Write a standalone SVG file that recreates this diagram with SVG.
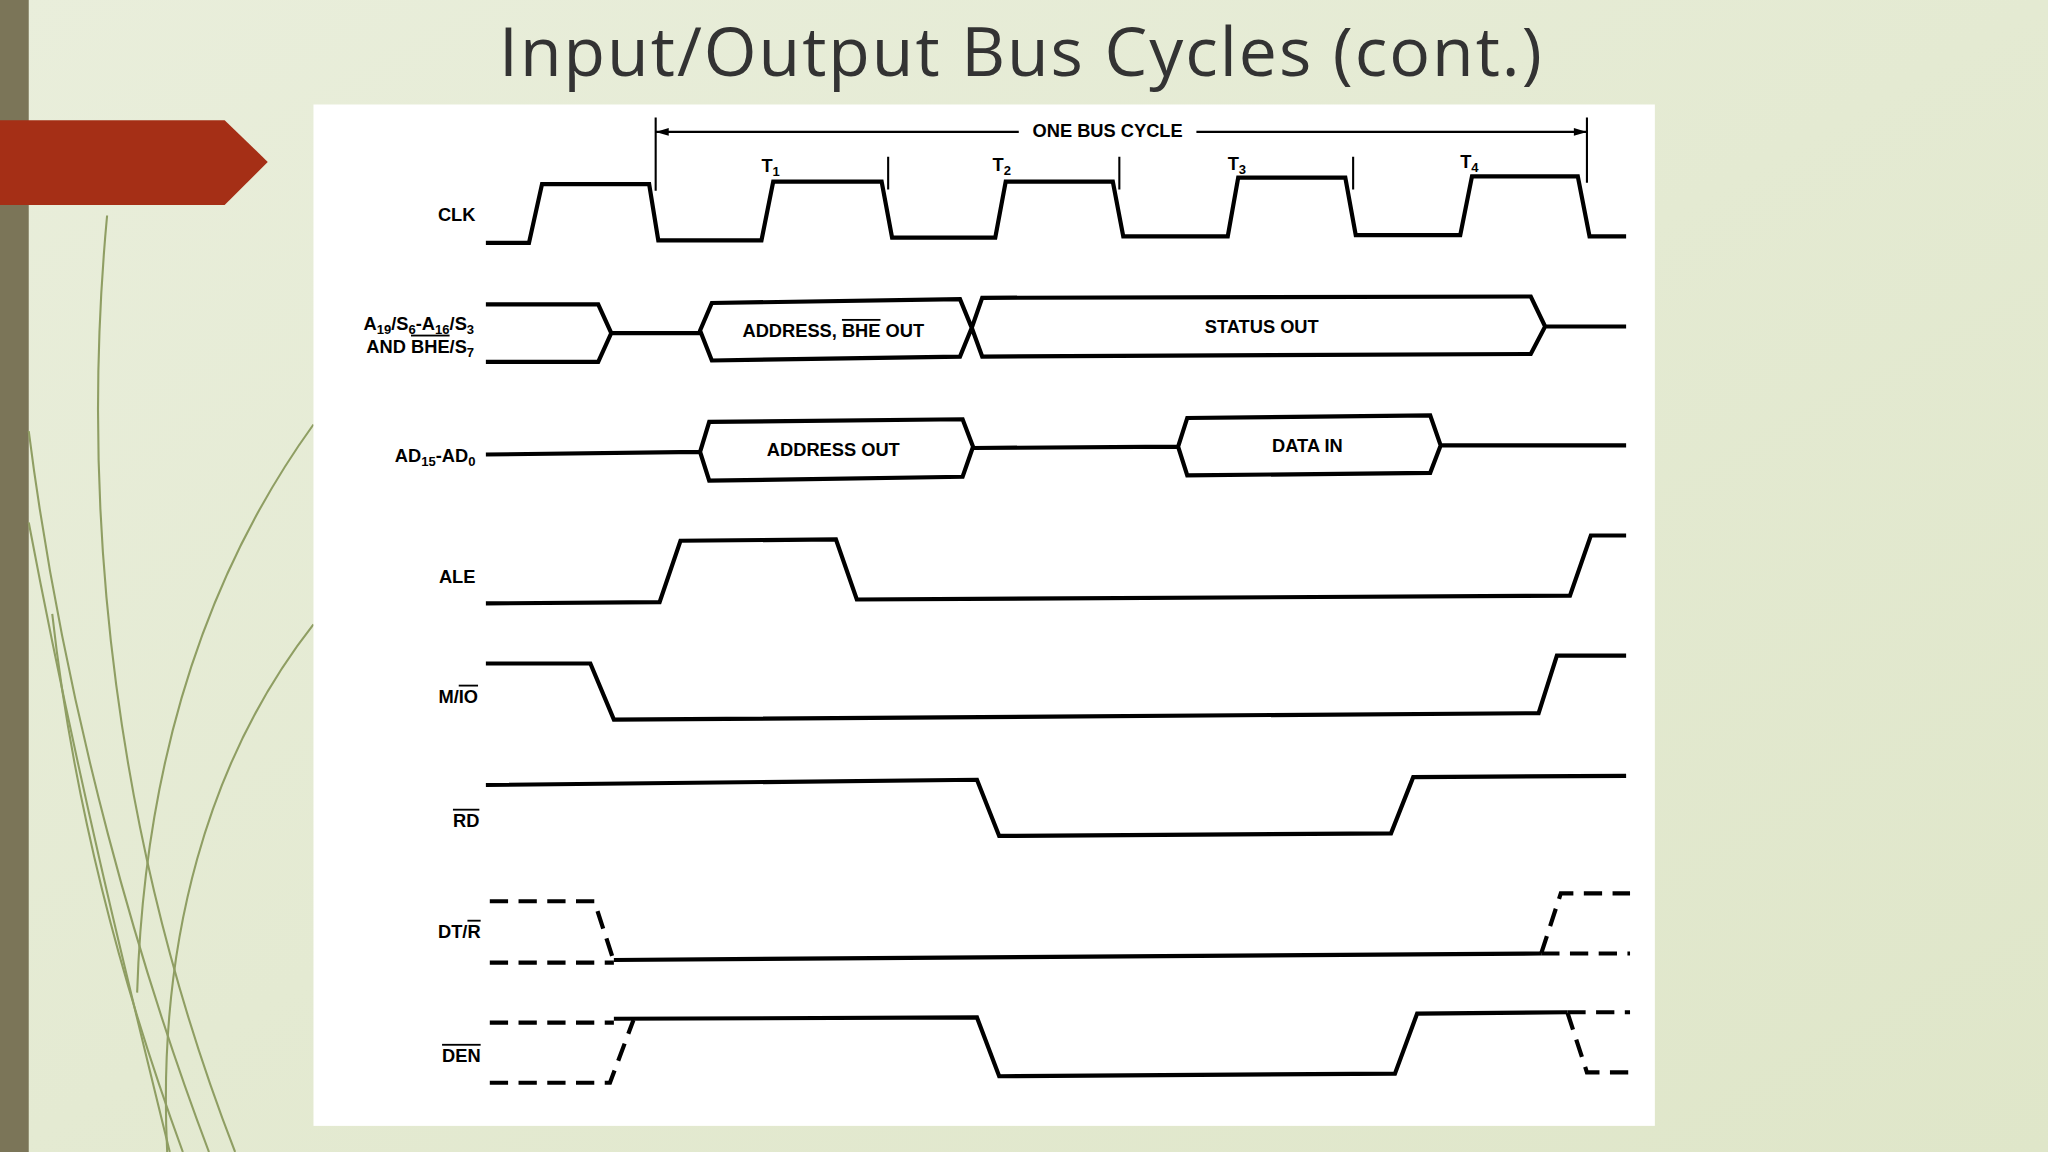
<svg xmlns="http://www.w3.org/2000/svg" width="2048" height="1152" viewBox="0 0 2048 1152">
<defs>
<linearGradient id="bg" x1="0" y1="0" x2="1" y2="1"><stop offset="0" stop-color="#e9eedb"/><stop offset="1" stop-color="#dfe6c9"/></linearGradient>
<style>
.s{fill:none;stroke:#000;stroke-width:3.2;stroke-linejoin:miter}
.d{fill:none;stroke:#000;stroke-width:3.2;stroke-dasharray:14 8}
.t{fill:none;stroke:#000;stroke-width:1.6}
.l{font-family:"Liberation Sans",Arial,sans-serif;font-weight:bold;font-size:14px;fill:#000}
.r{text-anchor:end}
.m{text-anchor:middle}
.o{text-decoration:overline}
.g{fill:none;stroke:#8f9e63;stroke-width:1.6}
</style>
</defs>
<rect width="2048" height="1152" fill="url(#bg)"/>
<g transform="scale(1.30612)">
<rect x="0" y="0" width="22" height="882" fill="#7b7558"/>
<g id="deco">
<path class="g" d="M82,165 C60,400 90,650 180,882"/>
<path class="g" d="M22,330 C50,550 110,750 160,882"/>
<path class="g" d="M22,400 C60,600 100,760 130,882"/>
<path class="g" d="M40,470 C60,650 110,800 140,882"/>
<path class="g" d="M240,325 C150,450 110,600 105,760"/>
<path class="g" d="M240,478 C160,580 120,720 128,882"/>
</g>
<polygon points="0,92 172,92 205,124 172,157 0,157" fill="#a52f16"/>
<text x="782" y="58" text-anchor="middle" font-family="'Open Sans','Liberation Sans',sans-serif" font-size="52" letter-spacing="1.5" fill="#333">Input/Output Bus Cycles (cont.)</text>
<rect x="240" y="80" width="1027" height="782" fill="#fff"/>
<g id="connectors">
<path class="t" d="M502,90 V146 M1215,90 V140 M502,101 H780 M916,101 H1215 M680,120 V145 M857,120 V145 M1036,120 V145"/>
<path d="M502,101 l10,-3 v6z M1215,101 l-10,-3 v6z"/>
</g>
<g id="clk"><path class="s" d="M372,186 H405 L415,141 H497 L504,184 H583 L592,139 H675 L683,182 H762 L770,139 H852 L860,181 H940 L948,136 H1030 L1038,180 H1118 L1127,135 H1208 L1217,181 H1245"/>
<text class="l r" x="364" y="169">CLK</text>
<text class="l" x="848" y="105" text-anchor="middle">ONE BUS CYCLE</text>
<text class="l m" x="590" y="132">T<tspan font-size="10" dy="3">1</tspan></text>
<text class="l m" x="767" y="131">T<tspan font-size="10" dy="3">2</tspan></text>
<text class="l m" x="947" y="130">T<tspan font-size="10" dy="3">3</tspan></text>
<text class="l m" x="1125" y="129">T<tspan font-size="10" dy="3">4</tspan></text></g>
<g id="addr"><path class="s" d="M372,233 H458 L468,255 L458,277 H372 M468,255 H536 M536,253 L545,232 L735,229 L744,251 L735,273 L545,276 Z M744,251 L752,228 L1172,227 L1183,250 L1172,271 L752,273 Z M1183,250 H1245"/>
<text class="l r" x="363" y="253">A<tspan font-size="10" dy="3">19</tspan><tspan dy="-3">/S</tspan><tspan font-size="10" dy="3">6</tspan><tspan dy="-3">-A</tspan><tspan font-size="10" dy="3">16</tspan><tspan dy="-3">/S</tspan><tspan font-size="10" dy="3">3</tspan></text>
<text class="l r" x="363" y="270">AND <tspan class="o">BHE</tspan>/S<tspan font-size="10" dy="3">7</tspan></text>
<text class="l m" x="638" y="258">ADDRESS, <tspan class="o">BHE</tspan> OUT</text>
<text class="l m" x="966" y="255">STATUS OUT</text></g>
<g id="ad"><path class="s" d="M372,348 L536,346 M536,346 L543,323 L737,321 L745,342 L737,365 L543,368 Z M745,343 L902,342 M902,342 L909,320 L1095,318 L1103,341 L1095,362 L909,364 Z M1103,341 H1245"/>
<text class="l r" x="364" y="354">AD<tspan font-size="10" dy="3">15</tspan><tspan dy="-3">-AD</tspan><tspan font-size="10" dy="3">0</tspan></text>
<text class="l m" x="638" y="349">ADDRESS OUT</text>
<text class="l m" x="1001" y="346">DATA IN</text></g>
<g id="ale"><path class="s" d="M372,462 L505,461 L521,414 L640,413 L656,459 L1202,456 L1218,410 H1245"/><text class="l r" x="364" y="446">ALE</text></g>
<g id="mio"><path class="s" d="M372,508 H452 L470,551 L1178,546 L1192,502 H1245"/><text class="l r" x="366" y="538">M/<tspan class="o">IO</tspan></text></g>
<g id="rd"><path class="s" d="M372,601 L748,597 L765,640 L1065,638 L1082,595 L1245,594"/><text class="l r" x="367" y="633"><tspan class="o">RD</tspan></text></g>
<g id="dtr"><path class="d" d="M375,690 H455 L470,736 M375,737 H470 M1180,730 L1195,684 H1248 M1180,730 H1248"/><path class="s" d="M470,735 L1180,730"/><text class="l r" x="368" y="718">DT/<tspan class="o">R</tspan></text></g>
<g id="den"><path class="d" d="M375,783 H470 M375,829 H467 L485,781 M1200,775 H1248 M1200,775 L1215,821 H1248"/><path class="s" d="M470,780 L748,779 L765,824 L1068,822 L1085,776 L1200,775"/><text class="l r" x="368" y="813"><tspan class="o">DEN</tspan></text></g>
</g>
</svg>
